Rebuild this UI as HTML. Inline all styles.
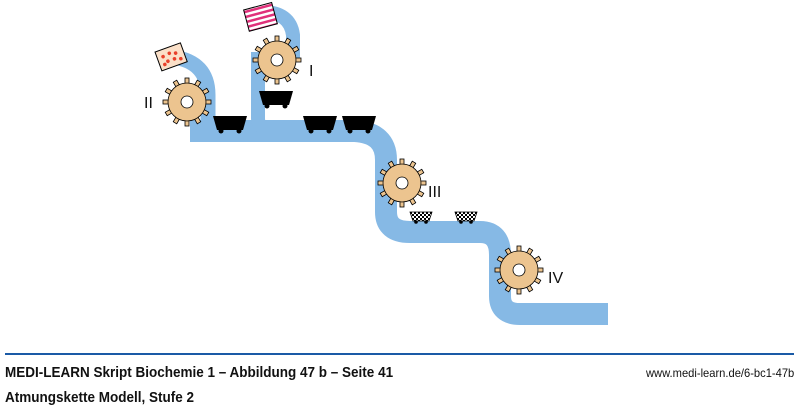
<!DOCTYPE html>
<html><head><meta charset="utf-8"><style>
body{margin:0;width:800px;height:408px;background:#fff;overflow:hidden;font-family:"Liberation Sans",sans-serif}
svg{position:absolute;left:0;top:0}
.t{position:absolute;font-weight:bold;font-size:15px;color:#111;transform-origin:0 0;transform:scaleX(0.9);white-space:nowrap}
</style></head><body>
<svg width="800" height="408" viewBox="0 0 800 408">
<defs>
<pattern id="chk" width="4" height="4" patternUnits="userSpaceOnUse"><rect width="4" height="4" fill="#fff"/><rect width="2" height="2" fill="#000"/><rect x="2" y="2" width="2" height="2" fill="#000"/></pattern>
<pattern id="str" width="6" height="5" patternUnits="userSpaceOnUse"><rect width="6" height="5" fill="#fff"/><rect width="6" height="2.5" fill="#e0307a"/></pattern>
<rect id="tooth" x="-2" y="-24" width="4" height="8" fill="#ecc48f" stroke="#000" stroke-width="0.8"/>
<g id="gear">
<use href="#tooth"/><use href="#tooth" transform="rotate(30)"/><use href="#tooth" transform="rotate(60)"/><use href="#tooth" transform="rotate(90)"/><use href="#tooth" transform="rotate(120)"/><use href="#tooth" transform="rotate(150)"/><use href="#tooth" transform="rotate(180)"/><use href="#tooth" transform="rotate(210)"/><use href="#tooth" transform="rotate(240)"/><use href="#tooth" transform="rotate(270)"/><use href="#tooth" transform="rotate(300)"/><use href="#tooth" transform="rotate(330)"/>
<circle r="19" fill="#ecc48f" stroke="#000" stroke-width="0.8"/>
<circle r="6" fill="#fff" stroke="#000" stroke-width="0.8"/>
</g>
<g id="cart"><path d="M0 0 H34 L30 14 H4 Z" fill="#000"/><circle cx="8" cy="15" r="2.5" fill="#000"/><circle cx="26" cy="15" r="2.5" fill="#000"/></g>
<g id="ccart"><path d="M0 0 H22 L19 9 H3 Z" fill="url(#chk)" stroke="#000" stroke-width="0.8"/><circle cx="6" cy="10" r="1.8" fill="#000"/><circle cx="16" cy="10" r="1.8" fill="#000"/></g>
</defs>
<g fill="none" stroke="#86b9e5" stroke-linejoin="round" stroke-linecap="butt">
<path d="M190 131 H355 Q386 133 386 160 V212 Q386 232 410 232 H480 Q500 232 500 255 V296 Q500 314 520 314 H608" stroke-width="22"/>
<path d="M173 57 Q208 62 208 95 V130" stroke-width="15"/>
<path d="M262 12 Q290 12 293 35 V60" stroke-width="14"/>
<path d="M258 52 V118 Q258 128 268 128" stroke-width="14"/>
</g>
<use href="#gear" x="187" y="102"/>
<use href="#gear" x="277" y="60"/>
<use href="#gear" x="402" y="183"/>
<use href="#gear" x="519" y="270"/>
<use href="#cart" x="213" y="116"/>
<use href="#cart" x="259" y="91"/>
<use href="#cart" x="303" y="116"/>
<use href="#cart" x="342" y="116"/>
<use href="#ccart" x="410" y="212"/>
<use href="#ccart" x="455" y="212"/>
<g transform="translate(171,58) rotate(-20)">
<rect x="-13" y="-11" width="27" height="20" fill="#fbe0c8" stroke="#000" stroke-width="1"/>
<g fill="#e8402a"><circle cx="-7" cy="-4" r="1.8"/><circle cx="0" cy="-5" r="1.8"/><circle cx="6" cy="-3" r="1.8"/><circle cx="-4" cy="2" r="1.8"/><circle cx="3" cy="2" r="1.8"/><circle cx="-8" cy="4" r="1.8"/><circle cx="9" cy="4" r="1.8"/></g>
</g>
<g transform="translate(260,17) rotate(-15)">
<rect x="-14" y="-11" width="29" height="22" fill="url(#str)" stroke="#000" stroke-width="1"/>
</g>
<g font-family="Liberation Sans,sans-serif" font-size="16" fill="#111">
<text x="144" y="108">II</text><text x="309" y="76">I</text><text x="428" y="197">III</text><text x="548" y="283">IV</text>
</g>
<line x1="5" y1="354" x2="794" y2="354" stroke="#1a5aa6" stroke-width="2"/>
</svg>
<div class="t" style="left:5px;top:364px">MEDI-LEARN Skript Biochemie 1 – Abbildung 47 b – Seite 41</div>
<div class="t" style="left:5px;top:389px">Atmungskette Modell, Stufe 2</div>
<div class="t" style="left:646px;top:366px;font-weight:normal;font-size:12px;transform:scaleX(0.93)">www.medi-learn.de/6-bc1-47b</div>
</body></html>
